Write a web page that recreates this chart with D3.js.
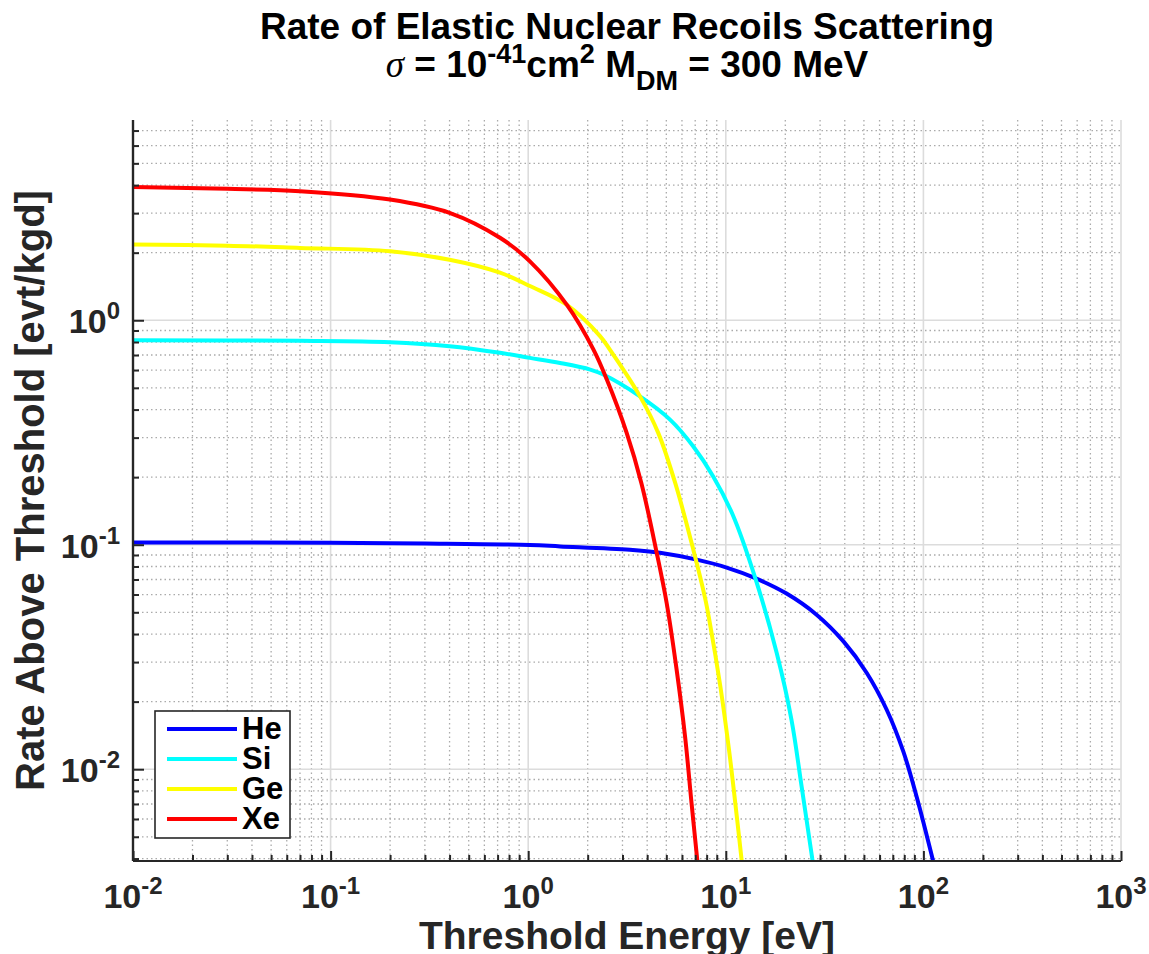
<!DOCTYPE html>
<html>
<head>
<meta charset="utf-8">
<script src="https://cdn.jsdelivr.net/npm/d3@7"></script>
<style>
  body { margin: 0; background: #fff; }
  text { font-family: "Liberation Sans", Arial, Helvetica, sans-serif; font-weight: bold; }
</style>
</head>
<body>
<svg id="chart" width="1149" height="954"></svg>
<script>
var svg = d3.select("#chart");

// plot box
var plotLeft = 133, plotRight = 1121, plotTop = 120, plotBottom = 861;

// series: threshold energy [eV] and rate [evt/kgd]
var seriesNames = ["He", "Si", "Ge", "Xe"];
var seriesColors = ["#0000ff", "#00ffff", "#ffff00", "#ff0000"];

var heE = [0.01, 0.1, 0.3, 1.02, 1.45, 3.27, 4.64, 7.13, 10.1, 14.1, 20.3, 28.8, 39.4, 51.6, 65.2, 79.1, 92.5, 112];
var heR = [0.1024, 0.102, 0.1012, 0.0997, 0.0983, 0.095, 0.0921, 0.0858, 0.0791, 0.071, 0.0606, 0.0488, 0.0371, 0.0269, 0.0184, 0.012, 0.00752, 0.0039];

var siE = [0.01, 0.07, 0.2, 0.4, 0.72, 1.02, 1.45, 2.06, 2.4, 3.68, 5.22, 6.85, 8.65, 10.8, 14.1, 18.1, 21.5, 24.2, 27.5];
var siR = [0.815, 0.81, 0.798, 0.766, 0.716, 0.68, 0.645, 0.603, 0.573, 0.458, 0.361, 0.274, 0.201, 0.137, 0.071, 0.0329, 0.0166, 0.00836, 0.0039];

var geE = [0.01, 0.03, 0.07, 0.2, 0.4, 0.72, 1.02, 1.57, 2.31, 2.59, 3.68, 4.55, 5.55, 6.85, 7.85, 8.25, 9.39, 10.43, 11.43, 12.04];
var geR = [2.175, 2.15, 2.1, 2.03, 1.86, 1.63, 1.42, 1.17, 0.85, 0.74, 0.458, 0.315, 0.188, 0.095, 0.058, 0.0463, 0.0233, 0.0118, 0.0059, 0.0039];

var xeE = [0.01, 0.03, 0.07, 0.2, 0.4, 0.72, 1.02, 1.57, 2.14, 2.5, 3.15, 3.74, 4.47, 5.02, 5.64, 6.22, 6.71, 7.18];
var xeR = [3.92, 3.85, 3.76, 3.45, 3.01, 2.33, 1.83, 1.17, 0.74, 0.544, 0.315, 0.188, 0.0921, 0.055, 0.0277, 0.014, 0.00705, 0.0039];

var seriesE = [heE, siE, geE, xeE];
var seriesR = [heR, siR, geR, xeR];

var xTicks = [1e-2, 1e-1, 1e0, 1e1, 1e2, 1e3];
var xTickExp = ["-2", "-1", "0", "1", "2", "3"];
var yTicks = [1e-2, 1e-1, 1e0];
var yTickExp = ["-2", "-1", "0"];

var xScale = d3.scaleLog().domain([0.01, 1000]).range([plotLeft, plotRight]);
var yScale = d3.scaleLog().domain([0.0039, 7.8]).range([plotBottom, plotTop]);

// minor positions 2..9 of every decade inside the domain
function minors(scale) {
  var d = scale.domain(), out = [];
  for (var k = -3; k <= 3; k++) {
    for (var m = 2; m <= 9; m++) {
      var v = m * Math.pow(10, k);
      if (v > d[0] * 1.0001 && v < d[1] * 0.9999) out.push(v);
    }
  }
  return out;
}
var xMinor = minors(xScale);
var yMinor = minors(yScale);

// grid
var grid = svg.append("g");
grid.selectAll(".xminor").data(xMinor).enter().append("line")
  .attr("x1", d => xScale(d)).attr("x2", d => xScale(d))
  .attr("y1", plotTop).attr("y2", plotBottom)
  .attr("stroke", "#aaaaaa").attr("stroke-width", 1.3).attr("stroke-dasharray", "1.5,3");
grid.selectAll(".yminor").data(yMinor).enter().append("line")
  .attr("x1", plotLeft).attr("x2", plotRight)
  .attr("y1", d => yScale(d)).attr("y2", d => yScale(d))
  .attr("stroke", "#aaaaaa").attr("stroke-width", 1.3).attr("stroke-dasharray", "1.5,3");
grid.selectAll(".xmajor").data(xTicks).enter().append("line")
  .attr("x1", d => xScale(d)).attr("x2", d => xScale(d))
  .attr("y1", plotTop).attr("y2", plotBottom)
  .attr("stroke", "#dcdcdc").attr("stroke-width", 1.6);
grid.selectAll(".ymajor").data(yTicks).enter().append("line")
  .attr("x1", plotLeft).attr("x2", plotRight)
  .attr("y1", d => yScale(d)).attr("y2", d => yScale(d))
  .attr("stroke", "#dcdcdc").attr("stroke-width", 1.6);

// curves
svg.append("clipPath").attr("id", "clip")
  .append("rect").attr("x", plotLeft).attr("y", plotTop)
  .attr("width", plotRight - plotLeft).attr("height", plotBottom - plotTop);

var line = d3.line()
  .x(d => xScale(d[0]))
  .y(d => yScale(d[1]))
  .curve(d3.curveCatmullRom.alpha(0.5));

seriesNames.forEach(function (name, i) {
  var pts = seriesE[i].map((e, j) => [e, seriesR[i][j]]);
  svg.append("path")
    .datum(pts)
    .attr("clip-path", "url(#clip)")
    .attr("d", line)
    .attr("fill", "none")
    .attr("stroke", seriesColors[i])
    .attr("stroke-width", 4);
});

// axes (ticks pointing inward, no box)
var axisColor = "#262626";
var xAxisG = svg.append("g").attr("transform", "translate(0," + plotBottom + ")");
xAxisG.call(d3.axisBottom(xScale).tickValues(xTicks).tickSize(-10).tickFormat(""));
xAxisG.append("g").call(d3.axisBottom(xScale).tickValues(xMinor).tickSize(-6).tickFormat(""));
var yAxisG = svg.append("g").attr("transform", "translate(" + plotLeft + ",0)");
yAxisG.call(d3.axisLeft(yScale).tickValues(yTicks).tickSize(-11).tickFormat(""));
yAxisG.append("g").call(d3.axisLeft(yScale).tickValues(yMinor).tickSize(-6).tickFormat(""));
xAxisG.selectAll(".domain").attr("d", "M" + plotLeft + ",0H" + plotRight);
yAxisG.selectAll(".domain").attr("d", "M0," + plotTop + "V" + plotBottom);
svg.selectAll(".domain").attr("stroke", axisColor).attr("stroke-width", 2.2);
svg.selectAll(".tick line").attr("stroke", axisColor).attr("stroke-width", 2);

// tick labels
xTicks.forEach(function (v, i) {
  var t = svg.append("text")
    .attr("x", xScale(v)).attr("y", 908)
    .attr("text-anchor", "middle")
    .attr("fill", axisColor)
    .style("font-size", "34px");
  t.append("tspan").text("10");
  t.append("tspan").attr("dy", -14).style("font-size", "24px").text(xTickExp[i]);
});
yTicks.forEach(function (v, i) {
  var t = svg.append("text")
    .attr("x", 120).attr("y", yScale(v) + 13)
    .attr("text-anchor", "end")
    .attr("fill", axisColor)
    .style("font-size", "34px");
  t.append("tspan").text("10");
  t.append("tspan").attr("dy", -14).style("font-size", "24px").text(yTickExp[i]);
});

// axis titles
svg.append("text")
  .attr("x", (plotLeft + plotRight) / 2).attr("y", 949)
  .attr("text-anchor", "middle")
  .attr("fill", axisColor)
  .style("font-size", "39px")
  .text("Threshold Energy [eV]");
svg.append("text")
  .attr("transform", "translate(44," + ((plotTop + plotBottom) / 2) + ")rotate(-90)")
  .attr("text-anchor", "middle")
  .attr("fill", axisColor)
  .style("font-size", "40px")
  .text("Rate Above Threshold [evt/kgd]");

// title
svg.append("text")
  .attr("x", 627).attr("y", 39)
  .attr("text-anchor", "middle")
  .style("font-size", "37px")
  .text("Rate of Elastic Nuclear Recoils Scattering");
var t2 = svg.append("text")
  .attr("x", 627).attr("y", 77)
  .attr("text-anchor", "middle")
  .style("font-size", "37px");
t2.append("tspan").style("font-family", "'Liberation Serif', serif").style("font-style", "italic").style("font-weight", "normal").text("σ");
t2.append("tspan").text(" = 10");
t2.append("tspan").attr("dy", -14).style("font-size", "27px").text("-41");
t2.append("tspan").attr("dy", 14).text("cm");
t2.append("tspan").attr("dy", -14).style("font-size", "27px").text("2");
t2.append("tspan").attr("dy", 14).text(" M");
t2.append("tspan").attr("dy", 13).style("font-size", "27px").text("DM");
t2.append("tspan").attr("dy", -13).text(" = 300 MeV");

// legend
var legend = svg.append("g");
legend.append("rect")
  .attr("x", 155).attr("y", 711).attr("width", 135).attr("height", 127)
  .attr("fill", "#fff").attr("stroke", axisColor).attr("stroke-width", 1.6);
var rowY = d3.scalePoint().domain(seriesNames).range([729, 819]);
seriesNames.forEach(function (name, i) {
  legend.append("line")
    .attr("x1", 167).attr("x2", 237)
    .attr("y1", rowY(name)).attr("y2", rowY(name))
    .attr("stroke", seriesColors[i]).attr("stroke-width", 4);
  legend.append("text")
    .attr("x", 242).attr("y", rowY(name) + 10)
    .attr("fill", "#000")
    .style("font-size", "31px")
    .text(name);
});
</script>
</body>
</html>
